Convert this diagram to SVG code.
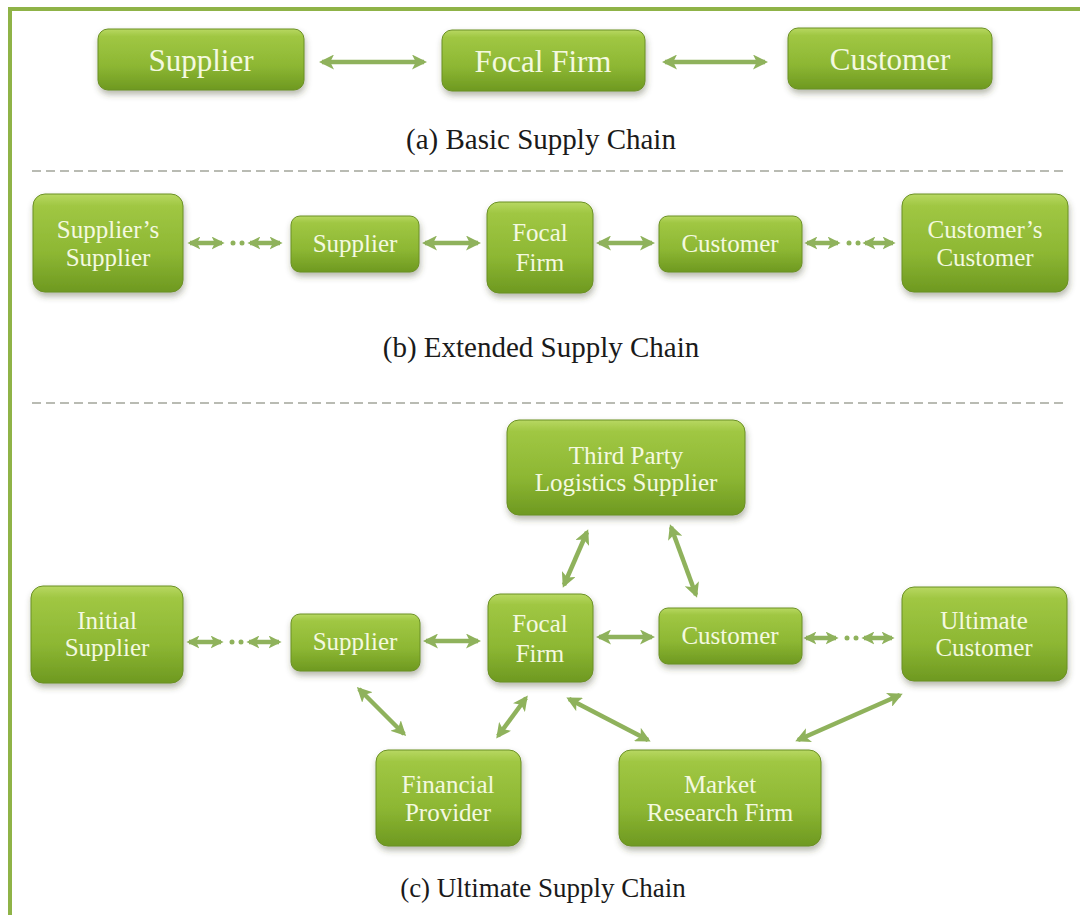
<svg xmlns="http://www.w3.org/2000/svg" width="1080" height="915" viewBox="0 0 1080 915" font-family="'Liberation Serif', 'Times New Roman', 'DejaVu Serif', serif">
  <defs>
    <linearGradient id="boxFill" x1="0" y1="0" x2="0" y2="1">
      <stop offset="0" stop-color="#b8d862"/>
      <stop offset="0.12" stop-color="#a0c743"/>
      <stop offset="0.6" stop-color="#8db733"/>
      <stop offset="1" stop-color="#6e9921"/>
    </linearGradient>
    <filter id="shadow" x="-10%" y="-10%" width="125%" height="135%">
      <feDropShadow dx="1" dy="4" stdDeviation="3" flood-color="#3d4a20" flood-opacity="0.38"/>
    </filter>
    <marker id="head" viewBox="0 0 10 10" refX="8" refY="5" markerWidth="15" markerHeight="15" markerUnits="userSpaceOnUse" orient="auto-start-reverse">
      <path d="M0,0 L10,5 L0,10 L2.5,5 Z" fill="#8fb25c"/>
    </marker>
    <marker id="headSmall" viewBox="0 0 10 10" refX="8" refY="5" markerWidth="13" markerHeight="13" markerUnits="userSpaceOnUse" orient="auto-start-reverse">
      <path d="M0,0 L10,5 L0,10 L2.5,5 Z" fill="#8fb25c"/>
    </marker>
  </defs>
  <style>
    text { font-family: 'Liberation Serif', 'Times New Roman', 'DejaVu Serif', serif; }
    .box { fill: url(#boxFill); stroke: #6b9024; stroke-width: 1; filter: url(#shadow); }
    .lbl { fill: #f4f9e0; text-anchor: middle; dominant-baseline: central; }
    .big { font-size: 31px; }
    .mid { font-size: 25px; }
    .cap { font-size: 29px; fill: #1a1a1a; text-anchor: middle; }
    .link { stroke: #8fb25c; stroke-width: 4.5; fill: none; marker-start: url(#head); marker-end: url(#head); }
    .slink { stroke: #8fb25c; stroke-width: 4.5; fill: none; marker-start: url(#headSmall); marker-end: url(#headSmall); }
    .dot { fill: #8fb25c; }
    .sep { stroke: #a3a59a; stroke-width: 1.5; stroke-dasharray: 9 5; }
    .frame { stroke: #8fb347; stroke-width: 4; fill: none; }
  </style>

  <rect x="0" y="0" width="1080" height="915" fill="#ffffff"/>

  <!-- frame (top and left edges) -->
  <g id="frame">
    <path class="frame" d="M10,915 L10,9 L1080,9"/>
  </g>

  <!-- section separators -->
  <g id="separators">
    <line class="sep" x1="32" y1="171" x2="1064" y2="171"/>
    <line class="sep" x1="32" y1="403" x2="1064" y2="403"/>
  </g>

  <!-- connectors -->
  <g id="connectors">
    <!-- (a) basic -->
    <line class="link" x1="322" y1="62" x2="424" y2="62"/>
    <line class="link" x1="665" y1="62" x2="765" y2="62"/>

    <!-- (b) extended -->
    <line class="slink" x1="190" y1="243" x2="222" y2="243"/>
    <circle class="dot" cx="233" cy="243" r="2.5"/>
    <circle class="dot" cx="242" cy="243" r="2.5"/>
    <line class="slink" x1="250" y1="243" x2="280" y2="243"/>
    <line class="link" x1="425" y1="243" x2="478" y2="243"/>
    <line class="link" x1="599" y1="243" x2="652" y2="243"/>
    <line class="slink" x1="807" y1="243" x2="838" y2="243"/>
    <circle class="dot" cx="849" cy="243" r="2.5"/>
    <circle class="dot" cx="858" cy="243" r="2.5"/>
    <line class="slink" x1="865" y1="243" x2="893" y2="243"/>

    <!-- (c) ultimate -->
    <line class="slink" x1="189" y1="642" x2="221" y2="642"/>
    <circle class="dot" cx="232" cy="642" r="2.5"/>
    <circle class="dot" cx="241" cy="642" r="2.5"/>
    <line class="slink" x1="249" y1="642" x2="279" y2="642"/>
    <line class="link" x1="426" y1="641" x2="478" y2="641"/>
    <line class="link" x1="599" y1="637" x2="652" y2="637"/>
    <line class="slink" x1="806" y1="638" x2="836" y2="638"/>
    <circle class="dot" cx="847" cy="638" r="2.5"/>
    <circle class="dot" cx="856" cy="638" r="2.5"/>
    <line class="slink" x1="864" y1="638" x2="892" y2="638"/>

    <line class="link" x1="587" y1="532" x2="564" y2="585"/>
    <line class="link" x1="671" y1="527" x2="696" y2="595"/>
    <line class="link" x1="359" y1="689" x2="404" y2="734"/>
    <line class="link" x1="526" y1="698" x2="498" y2="736"/>
    <line class="link" x1="569" y1="699" x2="648" y2="740"/>
    <line class="link" x1="900" y1="695" x2="798" y2="740"/>
  </g>

  <!-- (a) Basic Supply Chain -->
  <g id="a-supplier">
    <rect class="box" x="98" y="29" width="206" height="61" rx="10"/>
    <text class="lbl big" x="201" y="60">Supplier</text>
  </g>
  <g id="a-focal-firm">
    <rect class="box" x="442" y="30" width="203" height="61" rx="10"/>
    <text class="lbl big" x="543" y="61">Focal Firm</text>
  </g>
  <g id="a-customer">
    <rect class="box" x="788" y="28" width="204" height="61" rx="10"/>
    <text class="lbl big" x="890" y="59">Customer</text>
  </g>
  <text id="caption-a" class="cap" x="541" y="149">(a) Basic Supply Chain</text>

  <!-- (b) Extended Supply Chain -->
  <g id="b-suppliers-supplier">
    <rect class="box" x="33" y="194" width="150" height="98" rx="12"/>
    <text class="lbl mid" x="108" y="229">Supplier’s</text>
    <text class="lbl mid" x="108" y="257">Supplier</text>
  </g>
  <g id="b-supplier">
    <rect class="box" x="291" y="216" width="128" height="56" rx="9"/>
    <text class="lbl mid" x="355" y="243">Supplier</text>
  </g>
  <g id="b-focal-firm">
    <rect class="box" x="487" y="202" width="106" height="91" rx="12"/>
    <text class="lbl mid" x="540" y="232">Focal</text>
    <text class="lbl mid" x="540" y="262">Firm</text>
  </g>
  <g id="b-customer">
    <rect class="box" x="659" y="216" width="143" height="56" rx="9"/>
    <text class="lbl mid" x="730" y="243">Customer</text>
  </g>
  <g id="b-customers-customer">
    <rect class="box" x="902" y="194" width="166" height="98" rx="12"/>
    <text class="lbl mid" x="985" y="229">Customer’s</text>
    <text class="lbl mid" x="985" y="257">Customer</text>
  </g>
  <text id="caption-b" class="cap" x="541" y="357">(b) Extended Supply Chain</text>

  <!-- (c) Ultimate Supply Chain -->
  <g id="c-third-party-logistics">
    <rect class="box" x="507" y="420" width="238" height="95" rx="12"/>
    <text class="lbl mid" x="626" y="455">Third Party</text>
    <text class="lbl mid" x="626" y="482">Logistics Supplier</text>
  </g>
  <g id="c-initial-supplier">
    <rect class="box" x="31" y="586" width="152" height="97" rx="12"/>
    <text class="lbl mid" x="107" y="620">Initial</text>
    <text class="lbl mid" x="107" y="647">Supplier</text>
  </g>
  <g id="c-supplier">
    <rect class="box" x="291" y="614" width="129" height="57" rx="9"/>
    <text class="lbl mid" x="355" y="641">Supplier</text>
  </g>
  <g id="c-focal-firm">
    <rect class="box" x="488" y="594" width="105" height="88" rx="12"/>
    <text class="lbl mid" x="540" y="623">Focal</text>
    <text class="lbl mid" x="540" y="653">Firm</text>
  </g>
  <g id="c-customer">
    <rect class="box" x="659" y="608" width="143" height="56" rx="9"/>
    <text class="lbl mid" x="730" y="635">Customer</text>
  </g>
  <g id="c-ultimate-customer">
    <rect class="box" x="902" y="587" width="165" height="94" rx="12"/>
    <text class="lbl mid" x="984" y="620">Ultimate</text>
    <text class="lbl mid" x="984" y="647">Customer</text>
  </g>
  <g id="c-financial-provider">
    <rect class="box" x="376" y="750" width="145" height="96" rx="12"/>
    <text class="lbl mid" x="448" y="784">Financial</text>
    <text class="lbl mid" x="448" y="812">Provider</text>
  </g>
  <g id="c-market-research-firm">
    <rect class="box" x="619" y="750" width="202" height="96" rx="12"/>
    <text class="lbl mid" x="720" y="784">Market</text>
    <text class="lbl mid" x="720" y="812">Research Firm</text>
  </g>
  <text id="caption-c" class="cap" x="543" y="897" style="font-size:27px">(c) Ultimate Supply Chain</text>
</svg>
